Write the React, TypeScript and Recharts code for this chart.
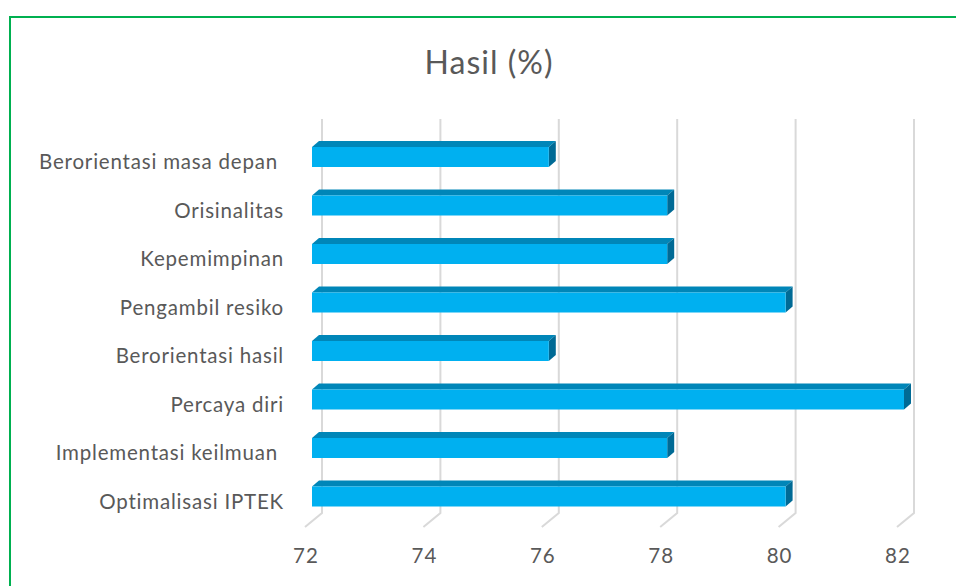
import React from 'react';
import { BarChart, Bar, XAxis, YAxis, CartesianGrid } from 'recharts';

const categories = [
  'Berorientasi masa depan ',
  'Orisinalitas',
  'Kepemimpinan',
  'Pengambil resiko',
  'Berorientasi hasil',
  'Percaya diri',
  'Implementasi keilmuan ',
  'Optimalisasi IPTEK',
];
const values = [76, 78, 78, 80, 76, 82, 78, 80];
const xTicks = [72, 74, 76, 78, 80, 82];
const title = 'Hasil (%)';

const data = categories.map((name, i) => ({ name, value: values[i] }));

const FONT = 'Lato, "Open Sans", sans-serif';
const TEXT = '#595959';
const DX = 7;
const DY = 6;

const Bar3D = (props: any) => {
  const { x, y, width, height } = props;
  if (width <= 0) return null;
  const r = x + width;
  return (
    <g>
      <polygon
        points={`${x},${y} ${x + DX},${y - DY} ${r + DX},${y - DY} ${r},${y}`}
        fill="#0086B8"
      />
      <polygon
        points={`${r},${y} ${r + DX},${y - DY} ${r + DX},${y + height - DY} ${r},${y + height}`}
        fill="#006A95"
      />
      <rect x={x} y={y} width={width} height={height} fill="#00B0F0" />
    </g>
  );
};

const GridLine = (props: any) => {
  const { x1, y1, y2 } = props;
  const bx = x1 + 10;
  return (
    <path
      key={props.key}
      d={`M${bx},${y1 - 14} L${bx},${y2 - 8} L${x1 - 7},${y2 + 6}`}
      stroke="#D9D9D9"
      strokeWidth={2}
      fill="none"
    />
  );
};

const XTick = (props: any) => {
  const { x, y, payload } = props;
  return (
    <text
      x={x - 6}
      y={y}
      dy={34}
      textAnchor="middle"
      fill={TEXT}
      fontSize={20.5}
      fontFamily={FONT}
      letterSpacing={1}
    >
      {payload.value}
    </text>
  );
};

const YTick = (props: any) => {
  const { y, payload } = props;
  return (
    <text
      x={284}
      y={y}
      dy={12}
      textAnchor="end"
      fill={TEXT}
      fontSize={20.5}
      fontFamily={FONT}
      letterSpacing={0.8}
      style={{ whiteSpace: 'pre' }}
    >
      {payload.value}
    </text>
  );
};

export default function App() {
  return (
    <div
      style={{
        position: 'absolute',
        left: 0,
        top: 0,
        width: 956,
        height: 586,
        overflow: 'hidden',
        background: '#fff',
        fontFamily: FONT,
      }}
    >
      <div
        style={{
          position: 'absolute',
          left: 9,
          top: 16,
          width: 1000,
          height: 1000,
          border: '2px solid #00B050',
          boxSizing: 'border-box',
        }}
      />
      <div
        style={{
          position: 'absolute',
          left: 0,
          top: 46,
          width: 978,
          textAlign: 'center',
          fontSize: 32,
          lineHeight: '32px',
          letterSpacing: 1,
          color: TEXT,
        }}
      >
        {title}
      </div>
      <div style={{ position: 'absolute', left: 0, top: 0 }}>
        <BarChart
          width={956}
          height={586}
          data={data}
          layout="vertical"
          margin={{ top: 133, right: 52, bottom: 35, left: 0 }}
          barSize={20}
        >
          <CartesianGrid horizontal={false} vertical={GridLine} />
          <XAxis
            type="number"
            domain={[72, 82]}
            ticks={xTicks}
            axisLine={false}
            tickLine={false}
            height={30}
            tick={XTick}
            interval={0}
          />
          <YAxis
            type="category"
            dataKey="name"
            width={312}
            axisLine={false}
            tickLine={false}
            tick={YTick}
            interval={0}
          />
          <Bar dataKey="value" shape={Bar3D} isAnimationActive={false} />
        </BarChart>
      </div>
    </div>
  );
}
